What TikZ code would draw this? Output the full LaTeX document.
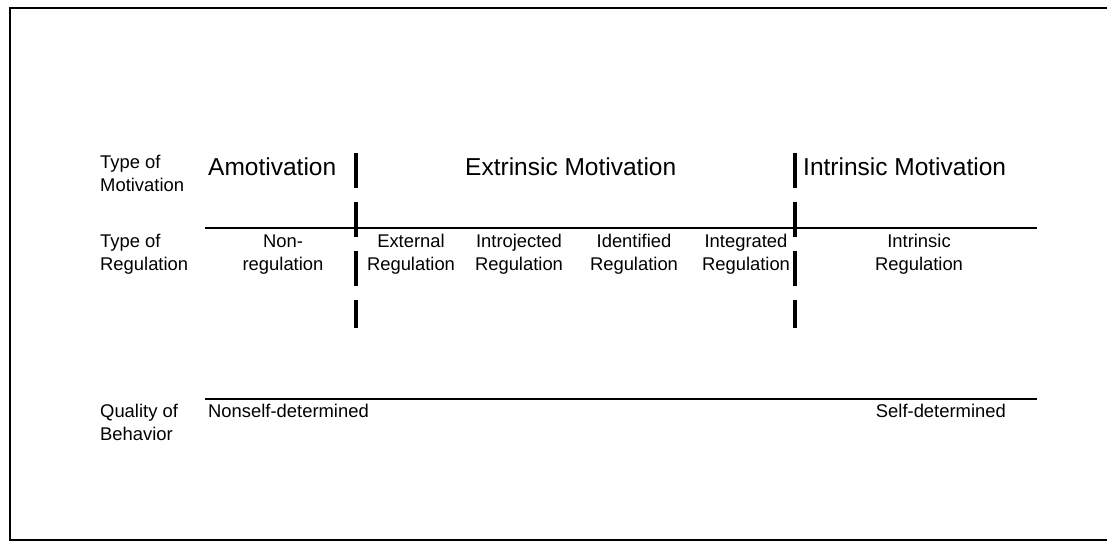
\documentclass[tikz,border=0pt]{standalone}
\usepackage{fontspec}
\setmainfont{Liberation Sans}
\usepackage{tikz}
\tikzstyle{rowlabel} = [anchor=base west, inner sep=0pt, align=left,
    font=\fontsize{18.4}{22.5}\selectfont]
\tikzstyle{bigtitle} = [anchor=base west, inner sep=0pt,
    font=\fontsize{24.5}{29}\selectfont]
\tikzstyle{regbox} = [anchor=base, inner sep=0pt, align=center,
    font=\fontsize{18.4}{22.5}\selectfont]
\tikzstyle{divider} = [line width=4pt, dash pattern=on 35pt off 14pt]

\begin{document}
\begin{tikzpicture}[x=1pt, y=-1pt]
                \useasboundingbox (0,0) rectangle (1107,542);
                % frame, open at the right edge
                \draw[line width=2pt] (1107,8) -- (10,8) -- (10,540) -- (1107,540);

                % row labels (base = last line)
                \node[rowlabel] (motlabel) at (100,191) {Type of\\Motivation};
                \node[rowlabel] (reglabel) at (100,270) {Type of\\Regulation};
                \node[rowlabel] (quallabel) at (100,440) {Quality of\\Behavior};

                % type of motivation
                \node[bigtitle] (amot) at (208,175) {Amotivation};
                \node[bigtitle] (extr) at (465,175) {Extrinsic Motivation};
                \node[bigtitle] (intr) at (803,175) {Intrinsic Motivation};

                % type of regulation
                \node[regbox] (nonreg) at (283,270) {Non-\\regulation};
                \node[regbox] (extreg) at (411,270) {External\\Regulation};
                \node[regbox] (introreg) at (519,270) {Introjected\\Regulation};
                \node[regbox] (identreg) at (634,270) {Identified\\Regulation};
                \node[regbox] (integreg) at (746,270) {Integrated\\Regulation};
                \node[regbox] (intrreg) at (919,270) {Intrinsic\\Regulation};

                % quality of behavior
                \node[rowlabel] (nonself) at (208,417) {Nonself-determined};
                \node[rowlabel, anchor=base east] (self) at (1006,417) {Self-determined};

                % rules
                \coordinate (rulea) at (205,228);
                \coordinate (ruleb) at (1037,228);
                \coordinate (rulec) at (205,399);
                \coordinate (ruled) at (1037,399);
                \draw[line width=1.5pt] (rulea) -- (ruleb);
                \draw[line width=1.5pt] (rulec) -- (ruled);

                % dividers
                \coordinate (lefttop) at (356,153);
                \coordinate (leftbot) at (356,328);
                \coordinate (righttop) at (795,153);
                \coordinate (rightbot) at (795,328);
                \draw[divider] (lefttop) -- (leftbot);
                \draw[divider] (righttop) -- (rightbot);
            \end{tikzpicture}
\end{document}
